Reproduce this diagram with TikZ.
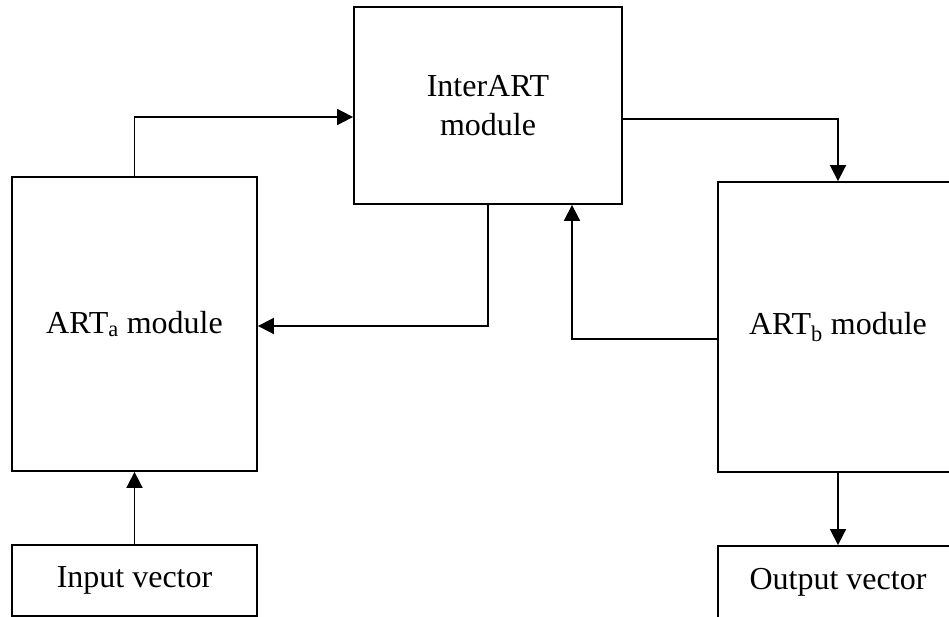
\documentclass[tikz,border=0pt]{standalone}
\usepackage{fontspec}
\setmainfont{Liberation Serif}
\usetikzlibrary{arrows.meta}
\begin{document}
\begin{tikzpicture}[x=1pt,y=-1pt,
  box/.style={draw, line width=1.8pt, inner sep=0pt, font=\fontsize{32}{39}\selectfont, align=center},
  conn/.style={line width=1.7pt, -{Triangle[length=16pt,width=16pt]}}]
\useasboundingbox (0,0) rectangle (949,617);
\node[box, minimum width=268pt, minimum height=197pt] (inter) at (488,105.5) {InterART\\module};
\node[box, minimum width=245pt, minimum height=294pt] (arta) at (134.5,324) {ART\textsubscript{a} module};
\node[box, minimum width=240pt, minimum height=290pt] (artb) at (838,327) {ART\textsubscript{b} module};
\node[box, minimum width=245pt, minimum height=71pt] (input) at (134.5,580.5) {Input vector};
\node[box, minimum width=240pt, minimum height=72pt] (output) at (838,582) {Output vector};
\draw[conn] (arta.north) |- ([yshift=-11.5pt]inter.west);
\draw[conn] ([yshift=-13.5pt]inter.east) -| (artb.north);
\draw[conn] (inter.south) |- ([yshift=-2pt]arta.east);
\draw[conn] ([yshift=-12pt]artb.west) -| ([xshift=84pt]inter.south);
\draw[conn] (input.north) -- (arta.south);
\draw[conn] (artb.south) -- (output.north);
\end{tikzpicture}
\end{document}
